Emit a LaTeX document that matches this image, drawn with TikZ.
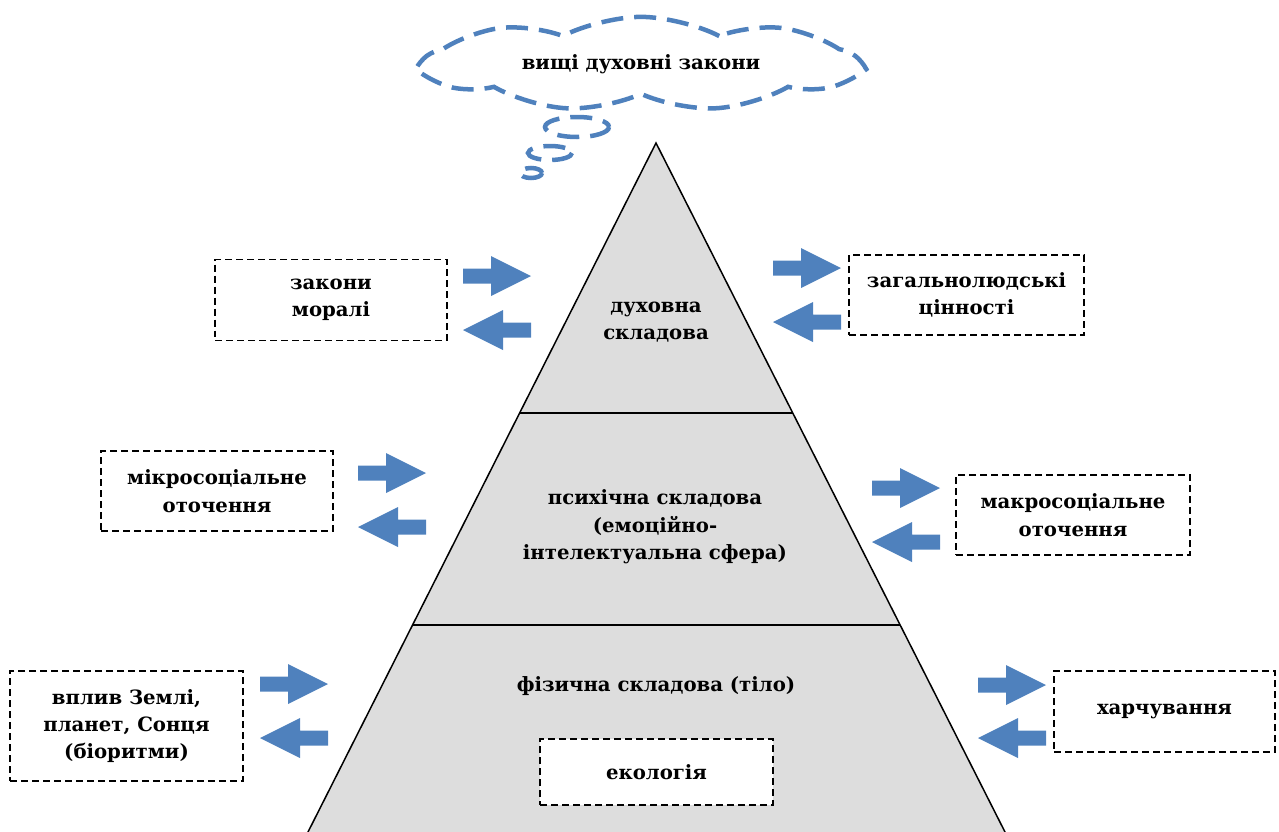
\documentclass[tikz,border=0pt]{standalone}
\usepackage{fontspec}
\setmainfont{DejaVu Serif}
\usetikzlibrary{calc,shapes.symbols}
\definecolor{arrowblue}{RGB}{79,129,189}
\definecolor{layergray}{RGB}{221,221,221}
\def\arrowright(#1,#2){\fill[arrowblue] (#1,#2) ++(0,-7.5) -- ++(28,0) -- ++(0,-12.5) -- ++(40,20) -- ++(-40,20) -- ++(0,-12.5) -- ++(-28,0) -- cycle;}
\def\arrowleft(#1,#2){\fill[arrowblue] (#1,#2) -- ++(40,-20) -- ++(0,12.5) -- ++(28,0) -- ++(0,15) -- ++(-28,0) -- ++(0,12.5) -- cycle;}

\begin{document}
\begin{tikzpicture}[x=0.02cm, y=-0.02cm,
	lbl/.style={font=\bfseries\fontsize{11.2pt}{15.6pt}\selectfont, align=center},
	dbox/.style={lbl, draw, dash pattern=on 0.14cm off 0.08cm, line width=0.03cm, inner sep=0},
	cloudline/.style={draw=arrowblue, line width=0.09cm, dash pattern=on 0.44cm off 0.22cm}]
		%%%%% START %%%%%
		\useasboundingbox (0,0) rectangle (1279,832);
		
		\coordinate (apex) at (656,143);
		\coordinate (bl) at (308,832);
		\coordinate (br) at (1005,832);
		
		\fill[layergray] (apex) -- (br) -- (bl) -- cycle;
		\draw[line width=0.03cm] ($(apex)!1.01!(bl)$) -- (apex) -- ($(apex)!1.01!(br)$);
		\draw[line width=0.03cm] ($(apex)!0.3919!(bl)$) -- ($(apex)!0.3919!(br)$);
		\draw[line width=0.03cm] ($(apex)!0.6996!(bl)$) -- ($(apex)!0.6996!(br)$);
		
		\node[lbl] (spirit) at (656,322) {духовна\\складова};
		\node[lbl] (psyche) at (655,527) {психічна складова\\(емоційно-\\інтелектуальна сфера)};
		\node[lbl] (body) at (656,686) {фізична складова (тіло)};
		\node[dbox, fill=white, minimum width=4.66cm, minimum height=1.32cm] (ecology) at (656.5,772) {екологія};
		
		\node[dbox, minimum width=4.64cm, minimum height=1.62cm] (morals) at (331,300) {закони\\моралі};
		\node[dbox, minimum width=4.7cm, minimum height=1.6cm] (values) at (966.5,295) {загальнолюдські\\цінності};
		\node[dbox, minimum width=4.64cm, minimum height=1.6cm] (micro) at (217,491) {мікросоціальне\\оточення};
		\node[dbox, minimum width=4.68cm, minimum height=1.6cm] (macro) at (1073,515) {макросоціальне\\оточення};
		\node[dbox, minimum width=4.66cm, minimum height=2.2cm] (earth) at (126.5,726) {вплив Землі,\\планет, Сонця\\(біоритми)};
		\node[dbox, minimum width=4.42cm, minimum height=1.62cm] (food) at (1164.5,711.5) {харчування};
		
		\arrowright(463,276) \arrowleft(463,330)
		\arrowright(773,268) \arrowleft(773,322)
		\arrowright(358,473) \arrowleft(358,527)
		\arrowright(872,488) \arrowleft(872,542)
		\arrowright(260,684) \arrowleft(260,738)
		\arrowright(978,685) \arrowleft(978,738)
		
		\node[cloud, cloud puffs=9, cloud puff arc=55, aspect=4.8, cloudline, minimum width=8.7cm, minimum height=1.8cm, inner sep=0, lbl] (sky) at (641,64) {вищі духовні закони};
		\draw[cloudline] (577,127) ellipse [x radius=32, y radius=10];
		\draw[cloudline] (550,153) ellipse [x radius=22, y radius=7];
		\draw[cloudline] (531,173) ellipse [x radius=11, y radius=5];
		
		%%%%% END %%%%%
\end{tikzpicture}
\end{document}
